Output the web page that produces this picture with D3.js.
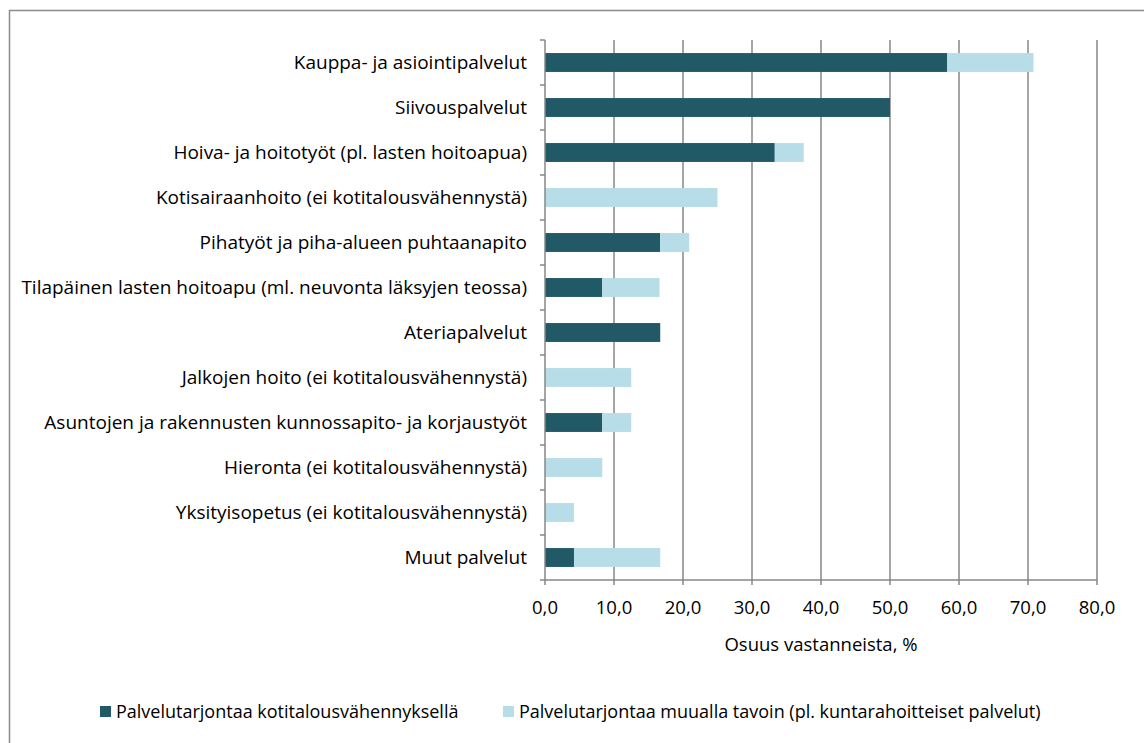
<!doctype html>
<html lang="fi">
<head>
    <meta charset="utf-8">
    <title>Palvelutarjonta</title>
    <script src="https://cdnjs.cloudflare.com/ajax/libs/d3/7.8.5/d3.min.js"></script>
    <style>
        body { margin: 0; background: #fff; }
        svg text { font-family: 'Open Sans', sans-serif; fill: #000; }
    </style>
</head>
<body>
<svg id="chart" width="1144" height="743"></svg>
<script>
    // categories, top to bottom
    const categories = [
        "Kauppa- ja asiointipalvelut",
        "Siivouspalvelut",
        "Hoiva- ja hoitotyöt (pl. lasten hoitoapua)",
        "Kotisairaanhoito (ei kotitalousvähennystä)",
        "Pihatyöt ja piha-alueen puhtaanapito",
        "Tilapäinen lasten hoitoapu (ml. neuvonta läksyjen teossa)",
        "Ateriapalvelut",
        "Jalkojen hoito (ei kotitalousvähennystä)",
        "Asuntojen ja rakennusten kunnossapito- ja korjaustyöt",
        "Hieronta (ei kotitalousvähennystä)",
        "Yksityisopetus (ei kotitalousvähennystä)",
        "Muut palvelut"
    ];
    // % of respondents
    const kotitalous = [58.3, 50.0, 33.3, 0, 16.7, 8.3, 16.7, 0, 8.3, 0, 0, 4.2];
    const muualla    = [12.5, 0, 4.2, 25.0, 4.2, 8.3, 0, 12.5, 4.2, 8.3, 4.2, 12.5];
    const seriesNames = [
        "Palvelutarjontaa kotitalousvähennyksellä",
        "Palvelutarjontaa muualla tavoin (pl. kuntarahoitteiset palvelut)"
    ];
    const colors = ["#215967", "#B7DEE8"];
    const xTicks = [0, 10, 20, 30, 40, 50, 60, 70, 80];

    const svg = d3.select("#chart");
    const m = {left: 545, right: 1097, top: 40, bottom: 580};

    // outer frame
    svg.append("rect")
        .attr("x", 9.5).attr("y", 10.5)
        .attr("width", 1144).attr("height", 743)
        .attr("fill", "none").attr("stroke", "#8c8c8c").attr("stroke-width", 1.5);

    const x = d3.scaleLinear().domain([0, 80]).range([m.left, m.right]);
    const y = d3.scaleBand().domain(categories).range([m.top, m.bottom]).paddingInner(0.58).paddingOuter(0.29);

    // vertical gridlines
    svg.append("g").selectAll("line")
        .data(xTicks.slice(1))
        .enter().append("line")
        .attr("x1", d => x(d)).attr("x2", d => x(d))
        .attr("y1", m.top).attr("y2", m.bottom + 5)
        .attr("stroke", "#878787").attr("stroke-width", 1.5);

    // stacked bars
    const rows = categories.map((c, i) => ({cat: c, a: kotitalous[i], b: muualla[i]}));
    const stack = d3.stack().keys(["a", "b"])(rows);
    svg.append("g").selectAll("g")
        .data(stack)
        .enter().append("g")
        .attr("fill", (d, i) => colors[i])
        .selectAll("rect")
        .data(d => d)
        .enter().append("rect")
        .attr("x", d => x(d[0]))
        .attr("width", d => x(d[1]) - x(d[0]))
        .attr("y", d => y(d.data.cat))
        .attr("height", y.bandwidth());

    // y axis
    const yAxis = svg.append("g");
    yAxis.append("line")
        .attr("x1", m.left).attr("x2", m.left)
        .attr("y1", m.top).attr("y2", m.bottom)
        .attr("stroke", "#878787").attr("stroke-width", 1.5);
    const bandEdges = d3.range(categories.length + 1).map(i => m.top + i * (m.bottom - m.top) / categories.length);
    yAxis.selectAll("line.t")
        .data(bandEdges)
        .enter().append("line").attr("class", "t")
        .attr("x1", m.left - 5).attr("x2", m.left)
        .attr("y1", d => d).attr("y2", d => d)
        .attr("stroke", "#878787").attr("stroke-width", 1.5);
    yAxis.selectAll("text")
        .data(categories)
        .enter().append("text")
        .attr("x", m.left - 18)
        .attr("y", d => y(d) + y.bandwidth() / 2)
        .attr("dy", "0.35em")
        .attr("text-anchor", "end")
        .style("font-size", "19px")
        .text(d => d);

    // x axis
    const xAxis = svg.append("g");
    xAxis.append("line")
        .attr("x1", m.left).attr("x2", m.right)
        .attr("y1", m.bottom).attr("y2", m.bottom)
        .attr("stroke", "#878787").attr("stroke-width", 1.5);
    xAxis.selectAll("line.t")
        .data([0])
        .enter().append("line").attr("class", "t")
        .attr("x1", d => x(d)).attr("x2", d => x(d))
        .attr("y1", m.bottom).attr("y2", m.bottom + 5)
        .attr("stroke", "#878787").attr("stroke-width", 1.5);
    xAxis.selectAll("text")
        .data(xTicks)
        .enter().append("text")
        .attr("x", d => x(d))
        .attr("y", 608)
        .attr("dy", "0.35em")
        .attr("text-anchor", "middle")
        .style("font-size", "18.5px")
        .text(d => d.toFixed(1).replace(".", ","));

    svg.append("text")
        .attr("x", (m.left + m.right) / 2)
        .attr("y", 645)
        .attr("dy", "0.35em")
        .attr("text-anchor", "middle")
        .style("font-size", "18.5px")
        .text("Osuus vastanneista, %");

    // legend
    const legendX = [100, 503];
    const legend = svg.append("g").selectAll("g")
        .data(seriesNames)
        .enter().append("g")
        .attr("transform", (d, i) => `translate(${legendX[i]},712)`);
    legend.append("rect")
        .attr("x", 0).attr("y", -6)
        .attr("width", 11).attr("height", 11)
        .attr("fill", (d, i) => colors[i]);
    legend.append("text")
        .attr("x", 16).attr("y", 0)
        .attr("dy", "0.35em")
        .style("font-size", "18px")
        .text(d => d);
</script>
</body>
</html>
